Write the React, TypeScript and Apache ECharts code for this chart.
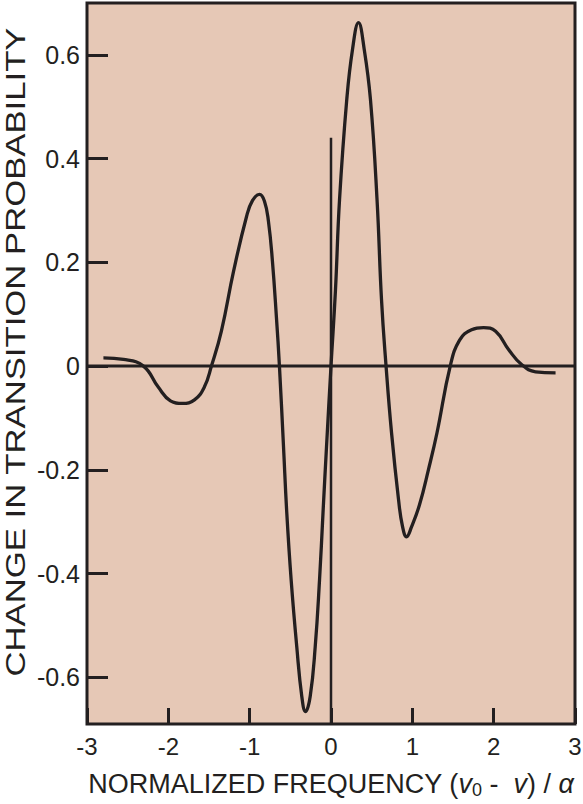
import React, { useEffect, useRef } from "react";
import * as echarts from "echarts";

const curveX = [-2.798, -2.552, -2.306, -2.122, -1.974, -1.827, -1.679, -1.556, -1.47, -1.347, -1.199, -1.039, -0.966, -0.879, -0.818, -0.769, -0.72, -0.671, -0.634, -0.584, -0.544, -0.49, -0.421, -0.359, -0.314, -0.256, -0.194, -0.141, -0.098, -0.055, 0, 0.055, 0.105, 0.194, 0.264, 0.338, 0.409, 0.485, 0.566, 0.621, 0.677, 0.744, 0.83, 0.879, 0.929, 0.99, 1.089, 1.199, 1.304, 1.466, 1.581, 1.728, 1.876, 2.024, 2.183, 2.343, 2.515, 2.761];
const curveY = [0.016, 0.013, 0, -0.041, -0.067, -0.072, -0.065, -0.04, 0, 0.068, 0.182, 0.288, 0.319, 0.331, 0.318, 0.279, 0.202, 0.094, 0, -0.155, -0.282, -0.412, -0.541, -0.637, -0.666, -0.637, -0.541, -0.412, -0.282, -0.155, 0, 0.147, 0.321, 0.514, 0.61, 0.662, 0.61, 0.514, 0.321, 0.128, 0, -0.128, -0.257, -0.309, -0.329, -0.31, -0.267, -0.199, -0.128, 0, 0.05, 0.07, 0.074, 0.067, 0.032, 0.003, -0.011, -0.013];

const zeroLineX = [-3, 3];
const zeroLineY = [0, 0];
const centerLineX = [0, 0];
const centerLineY = [-0.69, 0.44];

const xTicks = [-3, -2, -1, 0, 1, 2, 3];
const yTicks = [-0.6, -0.4, -0.2, 0, 0.2, 0.4, 0.6];

const xTitle = "NORMALIZED FREQUENCY ({i|v}{sub|0} -  {i|v}) / {i|α}";
const yTitle = "CHANGE IN TRANSITION PROBABILITY";

const INK = "#231f20";
const FONT = "'Liberation Sans', Arial, Helvetica, sans-serif";

export default function App() {
  const ref = useRef<HTMLDivElement>(null);
  useEffect(() => {
    if (!ref.current) return;
    const chart = echarts.init(ref.current, null, { renderer: "svg" });
    chart.setOption({
      animation: false,
      backgroundColor: "#ffffff",
      grid: {
        left: 87,
        right: 8,
        top: 3,
        bottom: 80,
        outerBoundsMode: "none",
        containLabel: false,
        show: true,
        backgroundColor: "#e6c8b6",
        borderColor: INK,
        borderWidth: 3,
      },
      xAxis: {
        type: "value",
        min: xTicks[0],
        max: xTicks[xTicks.length - 1],
        interval: 1,
        axisLine: { show: false, onZero: false },
        axisTick: { show: true, inside: true, length: 16, lineStyle: { color: INK, width: 3 } },
        splitLine: { show: false },
        axisLabel: { margin: 10, color: INK, fontSize: 24, fontFamily: FONT },
        name: xTitle,
        nameLocation: "middle",
        nameGap: 45,
        nameTextStyle: {
          color: INK,
          fontSize: 27,
          fontFamily: FONT,
          rich: {
            i: { fontSize: 27, fontStyle: "italic", fontFamily: FONT, color: INK },
            sub: { fontSize: 18, fontFamily: FONT, color: INK, padding: [12, 0, 0, 0] },
          },
        },
      },
      yAxis: {
        type: "value",
        min: -0.69,
        max: 0.7,
        axisLine: { show: false, onZero: false },
        axisTick: {
          show: true,
          inside: true,
          length: 21,
          customValues: yTicks,
          lineStyle: { color: INK, width: 3 },
        },
        splitLine: { show: false },
        axisLabel: {
          margin: 7,
          color: INK,
          fontSize: 25,
          fontFamily: FONT,
          customValues: yTicks,
          formatter: (v: number) => (Math.abs(v) < 1e-9 ? "0" : String(Math.round(v * 10) / 10)),
        },
      },
      graphic: [
        {
          type: "text",
          x: 15,
          y: 352,
          rotation: Math.PI / 2,
          scaleX: 1.24,
          style: {
            text: yTitle,
            fill: INK,
            fontSize: 28,
            fontFamily: FONT,
            align: "center",
            verticalAlign: "middle",
          },
        },
      ],
      series: [
        {
          type: "line",
          data: zeroLineX.map((x, i) => [x, zeroLineY[i]]),
          symbol: "none",
          lineStyle: { color: INK, width: 3 },
          silent: true,
        },
        {
          type: "line",
          data: centerLineX.map((x, i) => [x, centerLineY[i]]),
          symbol: "none",
          lineStyle: { color: INK, width: 2.5 },
          silent: true,
        },
        {
          type: "line",
          data: curveX.map((x, i) => [x, curveY[i]]),
          symbol: "none",
          smooth: 0.45,
          lineStyle: { color: INK, width: 3.3 },
        },
      ],
    });
    return () => chart.dispose();
  }, []);
  return (
    <div
      ref={ref}
      style={{ position: "fixed", left: 0, top: 0, width: 583, height: 804 }}
    />
  );
}
